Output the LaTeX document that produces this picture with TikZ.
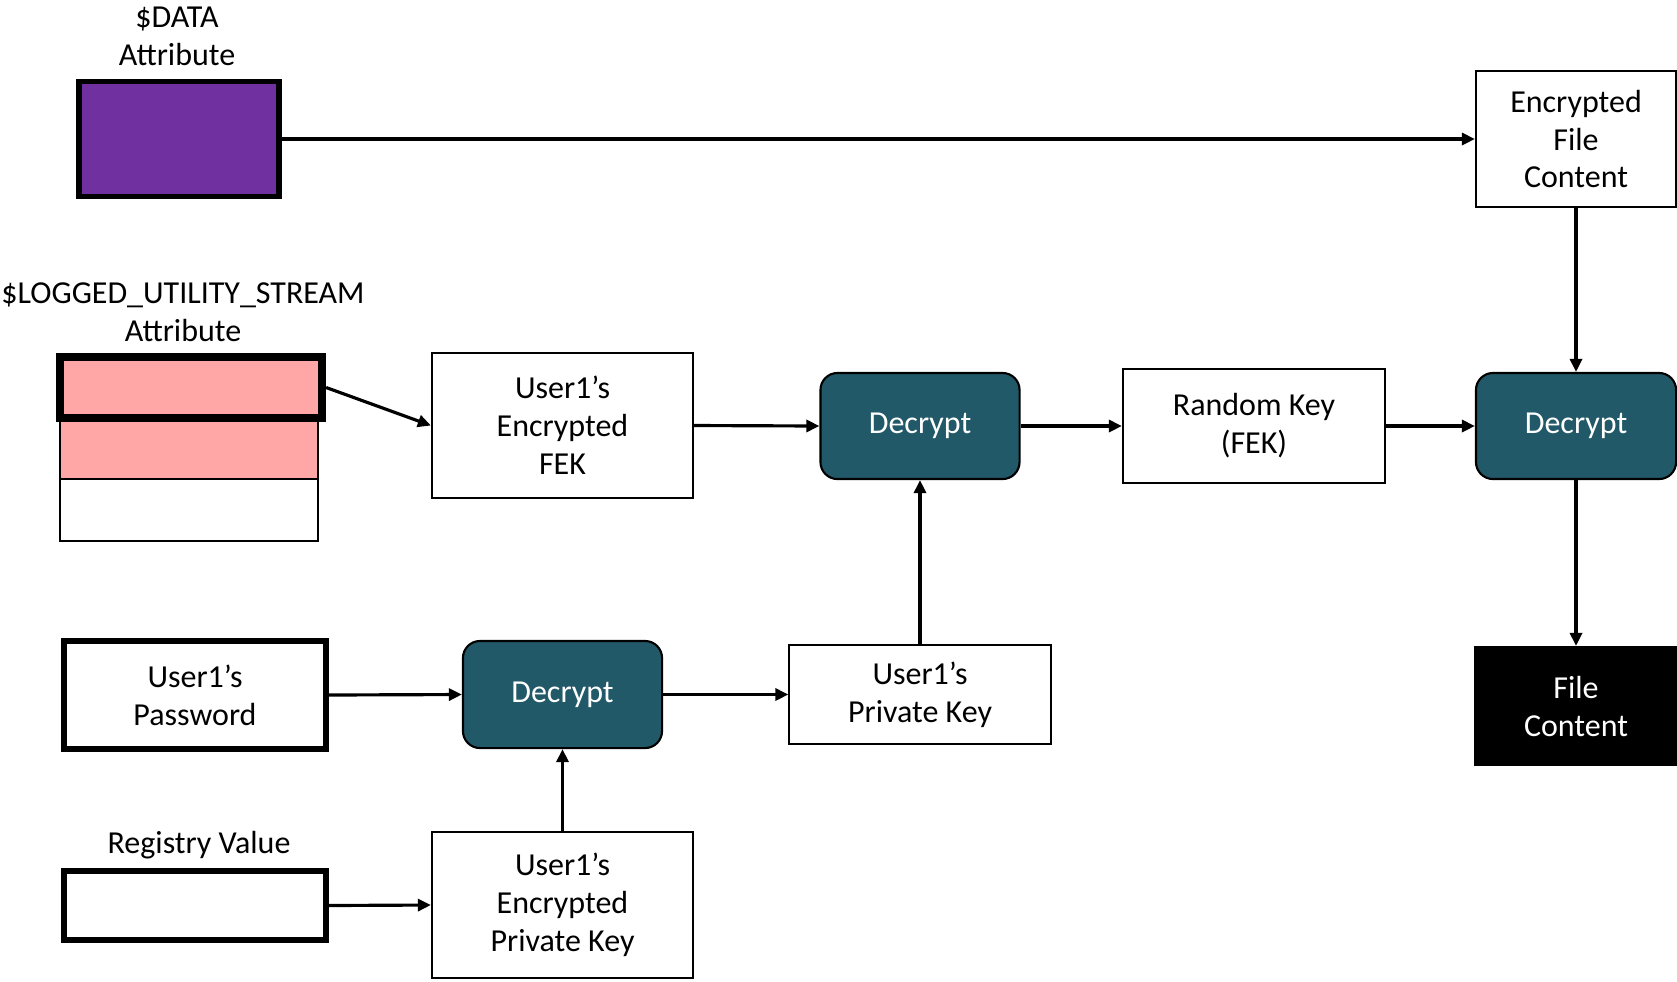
\documentclass[tikz,border=0pt]{standalone}
\usepackage{fontspec}
\setmainfont{Carlito}
\definecolor{datapurple}{RGB}{112,48,160}
\definecolor{streampink}{RGB}{255,166,166}
\definecolor{decteal}{RGB}{34,89,104}
\usetikzlibrary{arrows.meta}

\begin{document}
\begin{tikzpicture}[x=0.01cm, y=-0.01cm,
  font=\fontsize{9.1}{10.8}\selectfont,
  box/.style={draw, line width=0.6pt, align=center, inner sep=0pt},
  thickbox/.style={box, line width=1.5pt},
  decrypt/.style={box, fill=decteal, text=white, rounded corners=0.17cm},
  arr/.style={-{Triangle[length=0.13cm, width=0.12cm]}, line width=0.9pt}]
  \useasboundingbox (0,0) rectangle (1677,981);
  %% $DATA attribute and encrypted content
  \node[align=center] (datalbl) at (177,36) {\$DATA\\Attribute};
  \node[thickbox, fill=datapurple, minimum width=2.0cm, minimum height=1.15cm] (data) at (179,139) {};
  \node[box, minimum width=2.0cm, minimum height=1.36cm] (efc) at (1576,139) {Encrypted\\File\\Content};
  %% $LOGGED_UTILITY_STREAM attribute (three rows, first one highlighted)
  \node[align=center] (luslbl) at (183,312) {\$LOGGED\_UTILITY\_STREAM\\Attribute};
  \node[box, fill=streampink, minimum width=2.58cm, minimum height=0.61cm] (lusmid) at (189,448.5) {};
  \node[box, fill=white, minimum width=2.58cm, minimum height=0.62cm] (lusbot) at (189,510) {};
  \node[box, fill=streampink, line width=2.3pt, minimum width=2.62cm, minimum height=0.61cm] (lustop) at (191,387.5) {};
  %% middle row
  \node[box, minimum width=2.61cm, minimum height=1.45cm] (efek) at (562.5,425.5) {User1’s\\Encrypted\\FEK};
  \node[decrypt, minimum width=1.99cm, minimum height=1.06cm] (dec1) at (920,426) {Decrypt};
  \node[box, minimum width=2.62cm, minimum height=1.14cm] (rkey) at (1254,426) {Random Key\\(FEK)};
  \node[decrypt, minimum width=2.0cm, minimum height=1.06cm] (dec2) at (1576,426) {Decrypt};
  \node[box, fill=black, text=white, minimum width=2.01cm, minimum height=1.18cm] (fc) at (1576,706) {File\\Content};
  %% password and private key
  \node[thickbox, minimum width=2.62cm, minimum height=1.08cm] (pw) at (195,695) {User1’s\\Password};
  \node[decrypt, minimum width=1.99cm, minimum height=1.07cm] (dec3) at (562.5,694.5) {Decrypt};
  \node[box, minimum width=2.61cm, minimum height=0.99cm] (privkey) at (920,694.5) {User1’s\\Private Key};
  \node (reglbl) at (199,845) {Registry Value};
  \node[thickbox, minimum width=2.62cm, minimum height=0.69cm] (reg) at (195,905.5) {};
  \node[box, minimum width=2.61cm, minimum height=1.46cm] (encpk) at (562.5,905) {User1’s\\Encrypted\\Private Key};
  %% connectors
  \draw[arr] (data.east) -- (data.east -| efc.west);
  \draw[arr] (lustop.east) -- (efek.west);
  \draw[arr] (efek.east) -- (dec1.west);
  \draw[arr] (dec1.east) -- (rkey.west);
  \draw[arr] (rkey.east) -- (dec2.west);
  \draw[arr] (efc.south) -- (dec2.north);
  \draw[arr] (dec2.south) -- (fc.north);
  \draw[arr] (pw.east) -- (dec3.west);
  \draw[arr] (dec3.east) -- (privkey.west);
  \draw[arr] (privkey.north) -- (dec1.south);
  \draw[arr] (reg.east) -- (encpk.west);
  \draw[arr] (encpk.north) -- (dec3.south);
\end{tikzpicture}
\end{document}
